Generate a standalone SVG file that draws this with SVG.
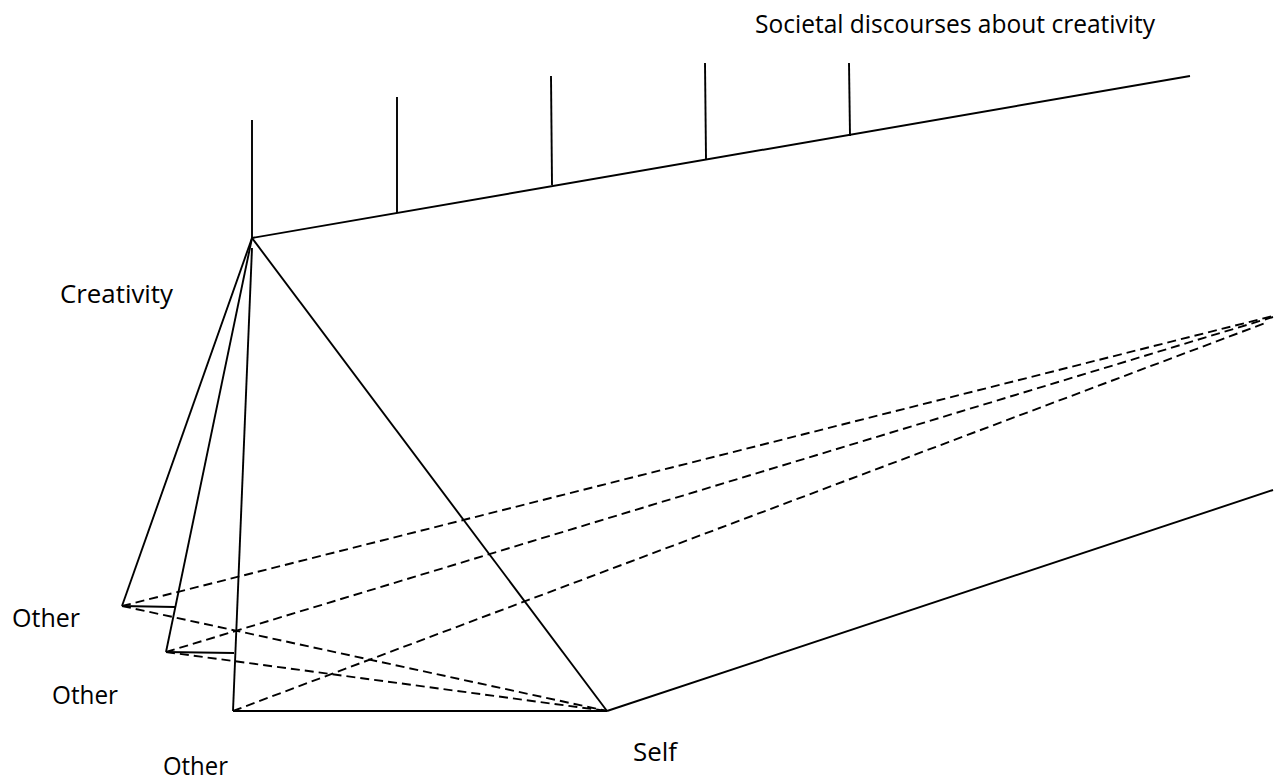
<svg xmlns="http://www.w3.org/2000/svg" width="1283" height="780" viewBox="0 0 1283 780">
<style>
.s{stroke:#000;stroke-width:1.9;fill:none;stroke-linecap:butt}
.d{stroke:#000;stroke-width:1.9;fill:none;stroke-dasharray:9 5}
text{font-family:"Open Sans","Noto Sans","Liberation Sans",sans-serif;font-size:25px;fill:#000}
</style>
<rect width="1283" height="780" fill="#fff"/>
<g id="connectors">
<path class="s" d="M252,238 L1190,76"/>
<path class="s" d="M252,120 L252,238"/>
<path class="s" d="M397,97 L397,213"/>
<path class="s" d="M551,76 L552,185"/>
<path class="s" d="M705,63 L706,159"/>
<path class="s" d="M849,63 L850,136"/>
<path class="s" d="M252,238 L122,606"/>
<path class="s" d="M252,238 L166,652"/>
<path class="s" d="M252,248 L233,711"/>
<path class="s" d="M252,238 L607,711"/>
<path class="s" d="M607,711 L1273,490"/>
<path class="s" d="M233,711 L607,711"/>
<path class="s" d="M122,606 L175,607"/>
<path class="s" d="M166,652 L234,653"/>
<path class="d" d="M122,606 L1273,316"/>
<path class="d" d="M166,652 L1273,317"/>
<path class="d" d="M233,711 L1268,322"/>
<path class="d" d="M122,606 L607,711"/>
<path class="d" d="M166,652 L607,711"/>
</g>
<g id="societal"><text x="755" y="33" textLength="400" lengthAdjust="spacingAndGlyphs">Societal discourses about creativity</text></g>
<g id="creativity"><text x="60" y="303" textLength="113" lengthAdjust="spacingAndGlyphs">Creativity</text></g>
<g id="other1"><text x="12" y="627" textLength="68" lengthAdjust="spacingAndGlyphs">Other</text></g>
<g id="other2"><text x="52" y="704" textLength="66" lengthAdjust="spacingAndGlyphs">Other</text></g>
<g id="other3"><text x="163" y="775" textLength="65" lengthAdjust="spacingAndGlyphs">Other</text></g>
<g id="self"><text x="633" y="761" textLength="44" lengthAdjust="spacingAndGlyphs">Self</text></g>
</svg>
